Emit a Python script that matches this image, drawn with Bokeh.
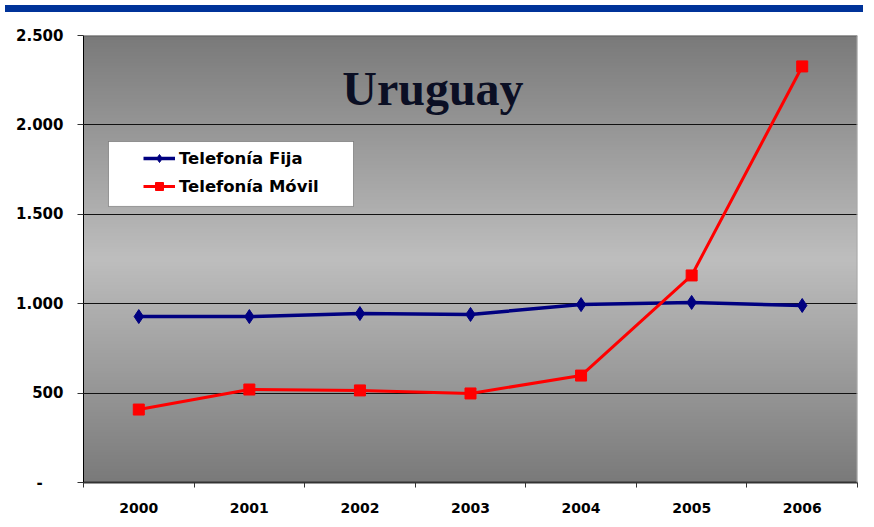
import numpy as np
from bokeh.plotting import figure
from bokeh.models import (Range1d, FixedTicker, Label, BoxAnnotation, Div, Legend, LegendItem, Span)
from bokeh.layouts import column
from bokeh.embed import file_html
from bokeh.resources import INLINE

years = [2000, 2001, 2002, 2003, 2004, 2005, 2006]
fija = [928, 928, 945, 940, 995, 1007, 990]
movil = [408, 520, 515, 498, 598, 1158, 2327]
y_ticks = [0, 500, 1000, 1500, 2000, 2500]
y_tick_labels = ["-\u2007\u2007", "500", "1.000", "1.500", "2.000", "2.500"]
title_text = "Uruguay"
series_names = ["Telefonía Fija", "Telefonía Móvil"]

FONT = "DejaVu Sans"

band = Div(text="", width=858, height=7, styles={"background-color": "#003399"})

p = figure(width=858, height=504, output_backend="svg", toolbar_location=None,
           x_range=Range1d(years[0] - 0.5, years[-1] + 0.5),
           y_range=Range1d(y_ticks[0], y_ticks[-1]),
           min_border_left=83, min_border_right=1, min_border_top=18, min_border_bottom=39)
p.outline_line_color = None
p.background_fill_color = "white"
p.border_fill_color = "white"

# gradient background (light in the middle, darker at top/bottom)
n = 250
vals = (np.arange(n) + 0.5) / n
gray = (190 - 68 * np.abs(vals - 0.5) / 0.5).astype(np.uint8)
img = np.empty((n, 1), dtype=np.uint32)
view = img.view(dtype=np.uint8).reshape((n, 1, 4))
view[:, 0, 0] = gray
view[:, 0, 1] = gray
view[:, 0, 2] = gray
view[:, 0, 3] = 255
bg = p.image_rgba(image=[img], x=years[0] - 0.5, y=y_ticks[0], dw=len(years), dh=y_ticks[-1] - y_ticks[0])
bg.level = "image"

# grid
p.xgrid.visible = False
p.ygrid.ticker = FixedTicker(ticks=y_ticks[1:-1])
p.ygrid.grid_line_color = "#111111"
p.ygrid.grid_line_width = 1

# frame borders
p.add_layout(Span(location=y_ticks[-1], dimension="width", line_color="#5f5f5f", line_width=2))
p.add_layout(Span(location=years[-1] + 0.5, dimension="height", line_color="#a8a8a8", line_width=2))

# axes
p.yaxis.ticker = FixedTicker(ticks=y_ticks)
p.yaxis.major_label_overrides = {t: l for t, l in zip(y_ticks, y_tick_labels)}
p.yaxis.major_label_text_font = FONT
p.yaxis.major_label_text_font_style = "bold"
p.yaxis.major_label_text_font_size = "15px"
p.yaxis.major_label_text_color = "black"
p.yaxis.major_tick_out = 6
p.yaxis.major_tick_in = 0
p.yaxis.minor_tick_line_color = None
p.yaxis.axis_line_color = "black"
p.yaxis.major_tick_line_color = "#333333"
p.yaxis.major_label_standoff = 14

p.xaxis.ticker = FixedTicker(ticks=years, minor_ticks=[y - 0.5 for y in years] + [years[-1] + 0.5])
p.xaxis.major_label_overrides = {y: str(y) for y in years}
p.xaxis.major_label_text_font = FONT
p.xaxis.major_label_text_font_style = "bold"
p.xaxis.major_label_text_font_size = "14px"
p.xaxis.major_label_text_color = "black"
p.xaxis.major_tick_line_color = None
p.xaxis.major_tick_out = 0
p.xaxis.major_tick_in = 0
p.xaxis.minor_tick_out = 5
p.xaxis.minor_tick_in = 0
p.xaxis.minor_tick_line_color = "#333333"
p.xaxis.axis_line_color = "#333333"
p.xaxis.axis_line_width = 2
p.xaxis.major_label_standoff = 15

# legend box
box = BoxAnnotation(left=1999.726, right=2001.942, top=1907, bottom=1544,
                    fill_color="white", fill_alpha=1, line_color="black", line_width=1)
box.level = "underlay"
p.add_layout(box)

# series
l1 = p.line(years, fija, line_color="#000080", line_width=3.5)
m1 = p.scatter(years, fija, marker="diamond", size=14, fill_color="#000080", line_color="#000080")
l2 = p.line(years, movil, line_color="#ff0000", line_width=3)
m2 = p.scatter(years, movil, marker="square", size=11, fill_color="#ff0000", line_color="#ff0000")

legend = Legend(items=[LegendItem(label=series_names[0], renderers=[l1, m1]),
                       LegendItem(label=series_names[1], renderers=[l2, m2])],
                location=(51, 277))
legend.background_fill_alpha = 0
legend.border_line_alpha = 0
legend.padding = 9
legend.spacing = 8
legend.glyph_width = 32
legend.glyph_height = 20
legend.label_height = 20
legend.label_standoff = 4
legend.label_text_font = FONT
legend.label_text_font_style = "bold"
legend.label_text_font_size = "16.5px"
legend.label_text_color = "black"
p.add_layout(legend, "center")

# title inside plot area
title = Label(x=2002.66, y=2204, text=title_text, text_align="center", text_baseline="alphabetic",
              text_font="Liberation Serif", text_font_style="bold", text_font_size="48px",
              text_color="#0b0f24")
p.add_layout(title)

layout = column(band, p, spacing=0)
open("out.html", "w").write(file_html(layout, INLINE))
